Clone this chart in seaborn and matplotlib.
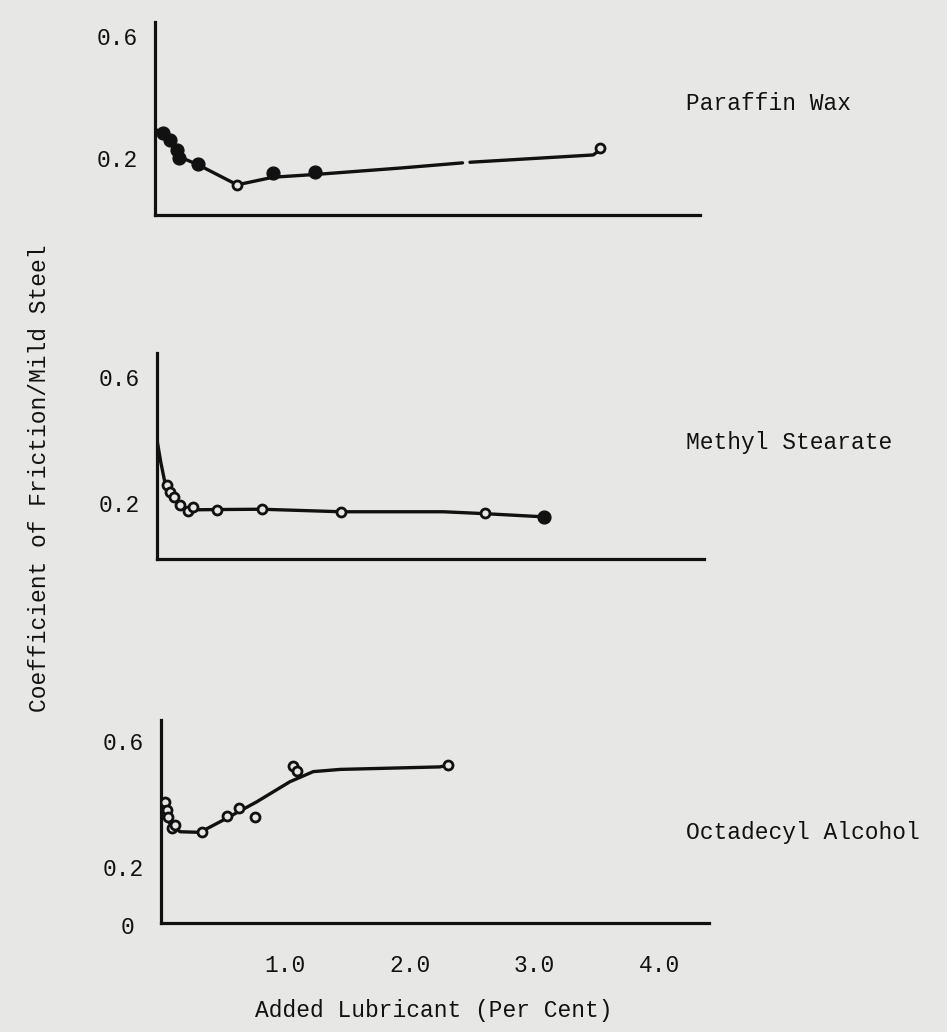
import numpy as np
import pandas as pd
import matplotlib
matplotlib.use("Agg")
import matplotlib.pyplot as plt
import seaborn as sns

# ---------------- data ----------------
# Paraffin Wax
paraffin_pts_x = [0.064, 0.12, 0.177, 0.193, 0.345, 0.659, 0.948, 1.285, 3.574]
paraffin_pts_y = [0.282, 0.259, 0.226, 0.200, 0.180, 0.111, 0.151, 0.154, 0.233]
paraffin_filled = [1, 1, 1, 1, 1, 0, 1, 1, 0]
paraffin_line_x = [0.0, 0.06, 0.12, 0.19, 0.345, 0.66, 0.95, 1.29, 1.97, 2.47, 2.53, 3.52, 3.57]
paraffin_line_y = [0.295, 0.28, 0.255, 0.205, 0.178, 0.112, 0.137, 0.146, 0.167, 0.184, 0.186, 0.21, 0.225]
paraffin_line_seg = [0, 0, 0, 0, 0, 0, 0, 0, 0, 0, 1, 1, 1]

# Methyl Stearate
methyl_pts_x = [0.078, 0.104, 0.137, 0.185, 0.249, 0.289, 0.48, 0.843, 1.476, 2.634, 3.108]
methyl_pts_y = [0.257, 0.235, 0.219, 0.194, 0.175, 0.187, 0.178, 0.181, 0.171, 0.168, 0.156]
methyl_filled = [0, 0, 0, 0, 0, 0, 0, 0, 0, 0, 1]
methyl_line_x = [0.0, 0.03, 0.064, 0.12, 0.19, 0.27, 0.48, 0.84, 1.48, 2.3, 2.63, 3.1]
methyl_line_y = [0.40, 0.33, 0.264, 0.22, 0.19, 0.178, 0.179, 0.18, 0.172, 0.172, 0.166, 0.156]

# Octadecyl Alcohol
octa_pts_x = [0.032, 0.046, 0.059, 0.086, 0.112, 0.327, 0.528, 0.629, 0.755, 1.063, 1.09, 2.308]
octa_pts_y = [0.407, 0.381, 0.360, 0.324, 0.333, 0.312, 0.362, 0.387, 0.360, 0.521, 0.506, 0.524]
octa_line_x = [0.032, 0.045, 0.153, 0.313, 0.5, 0.769, 1.036, 1.223, 1.438, 2.24, 2.308]
octa_line_y = [0.39, 0.349, 0.312, 0.31, 0.349, 0.407, 0.471, 0.503, 0.51, 0.518, 0.524]

series_names = ["Paraffin Wax", "Methyl Stearate", "Octadecyl Alcohol"]
y_tick_vals = [0.2, 0.6]
y_tick_labels = ["0.2", "0.6"]
x_tick_vals = [1.0, 2.0, 3.0, 4.0]
x_tick_labels = ["1.0", "2.0", "3.0", "4.0"]
x_label = "Added Lubricant (Per Cent)"
y_label = "Coefficient of Friction/Mild Steel"

# ---------------- style ----------------
sns.set_style("white")
FONT = ["Liberation Mono", "DejaVu Sans Mono"]
plt.rcParams["font.family"] = FONT
BG = "#e7e7e5"
INK = "#111111"
FS = 16.5
W, H = 947, 1032

fig = plt.figure(figsize=(W / 100, H / 100), dpi=100)
fig.patch.set_facecolor(BG)


def make_axes(left, right, top, bottom):
    return fig.add_axes([left / W, 1 - bottom / H, (right - left) / W, (bottom - top) / H])


def style(ax, xmax, ylo, yhi, xticks=False):
    ax.set_facecolor(BG)
    ax.set_xlim(0, xmax)
    ax.set_ylim(ylo, yhi)
    for s in ["top", "right"]:
        ax.spines[s].set_visible(False)
    for s in ["left", "bottom"]:
        ax.spines[s].set_linewidth(2.3)
        ax.spines[s].set_color(INK)
    ax.set_yticks(y_tick_vals)
    ax.set_yticklabels(y_tick_labels)
    ax.tick_params(axis="y", direction="inout", length=16, width=2.2, color=INK,
                   labelsize=FS, pad=4, labelcolor=INK)
    if xticks:
        ax.set_xticks(x_tick_vals)
        ax.set_xticklabels(x_tick_labels)
        ax.tick_params(axis="x", direction="in", length=11, width=2.2, color=INK,
                       labelsize=FS, pad=22, labelcolor=INK)
    else:
        ax.set_xticks([])
    ax.set_xlabel("")
    ax.set_ylabel("")
    for lab in ax.get_xticklabels() + ax.get_yticklabels():
        lab.set_family(FONT)


def draw_points(ax, xs, ys, filled):
    df = pd.DataFrame({"x": xs, "y": ys, "f": filled})
    op = df[df.f == 0]
    fl = df[df.f == 1]
    if len(op):
        sns.scatterplot(data=op, x="x", y="y", ax=ax, s=42, marker="o",
                        facecolor=BG, edgecolor=INK, linewidth=2.0, zorder=4)
    if len(fl):
        sns.scatterplot(data=fl, x="x", y="y", ax=ax, s=85, marker="o",
                        color=INK, edgecolor=INK, linewidth=1.0, zorder=4)


# ---- top panel: Paraffin Wax
ax1 = make_axes(155, 700, 22, 215)
d1 = pd.DataFrame({"x": paraffin_line_x, "y": paraffin_line_y, "seg": paraffin_line_seg})
sns.lineplot(data=d1, x="x", y="y", units="seg", estimator=None, sort=False,
             ax=ax1, color=INK, linewidth=2.4)
draw_points(ax1, paraffin_pts_x, paraffin_pts_y, paraffin_filled)
style(ax1, 545 / 124.5, 0.013, 0.646)

# ---- middle panel: Methyl Stearate
ax2 = make_axes(157, 704, 353, 559)
d2 = pd.DataFrame({"x": methyl_line_x, "y": methyl_line_y})
sns.lineplot(data=d2, x="x", y="y", estimator=None, sort=False,
             ax=ax2, color=INK, linewidth=2.4)
draw_points(ax2, methyl_pts_x, methyl_pts_y, methyl_filled)
style(ax2, 547 / 124.5, 0.022, 0.676)

# ---- bottom panel: Octadecyl Alcohol
ax3 = make_axes(161, 709, 720, 923)
d3 = pd.DataFrame({"x": octa_line_x, "y": octa_line_y})
sns.lineplot(data=d3, x="x", y="y", estimator=None, sort=False,
             ax=ax3, color=INK, linewidth=2.4)
draw_points(ax3, octa_pts_x, octa_pts_y, [0] * len(octa_pts_x))
style(ax3, 548 / 124.5, 0.022, 0.667, xticks=True)

# "0" label on the bottom panel
fig.text(128 / W, 1 - 928 / H, "0", ha="center", va="center", fontsize=FS,
         family=FONT, color=INK)

# series names on the right
for name, yy in zip(series_names, [103, 442, 832]):
    fig.text(686 / W, 1 - yy / H, name, ha="left", va="center", fontsize=FS,
             family=FONT, color=INK)

# axis titles
fig.text(434 / W, 1 - 1010 / H, x_label, ha="center", va="center", fontsize=FS,
         family=FONT, color=INK)
fig.text(40 / W, 1 - 478 / H, y_label, ha="center", va="center", rotation=90,
         fontsize=FS, family=FONT, color=INK)

fig.savefig("out.png", dpi=100, facecolor=BG)
